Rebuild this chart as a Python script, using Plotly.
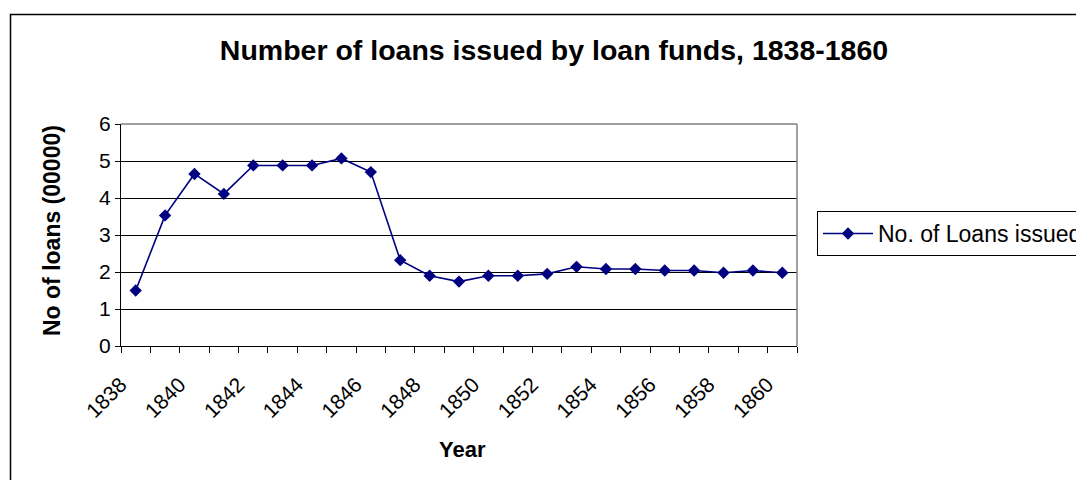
import plotly.graph_objects as go

# Loans issued per year (hundreds of thousands)
years = list(range(1838, 1861))
loans = [1.50, 3.53, 4.65, 4.11, 4.88, 4.88, 4.88, 5.07, 4.70, 2.32, 1.90, 1.74,
         1.90, 1.90, 1.95, 2.14, 2.08, 2.08, 2.04, 2.04, 1.98, 2.04, 1.98]
label_years = years[::2]
y_ticks = [0, 1, 2, 3, 4, 5, 6]

FONT = "Liberation Sans, Arial, sans-serif"
NAVY = "#000080"

# the page body adds an 8px offset, so positions below are page pixels minus 8
OFF = 8
W, H = 1084, 480
L, T = 121 - OFF, 124 - OFF
pw, ph = 676, 222
R, B = W - L - pw, H - T - ph


def px_x(p):
    return (p - OFF - L) / pw


def px_y(p):
    return (T + ph - (p - OFF)) / ph


fig = go.Figure()
fig.add_trace(go.Scatter(
    x=years, y=loans, mode="lines+markers", name="No. of Loans issued",
    line=dict(color=NAVY, width=1.6),
    marker=dict(symbol="diamond", size=9.5, color=NAVY),
))

fig.update_layout(
    width=W, height=H,
    margin=dict(l=L, r=R, t=T, b=B, autoexpand=False),
    paper_bgcolor="white", plot_bgcolor="white",
    font=dict(family=FONT, color="black", size=21),
    showlegend=True,
    legend=dict(
        x=px_x(817), y=px_y(233.5), xanchor="left", yanchor="middle",
        bordercolor="black", borderwidth=1, bgcolor="white",
        itemwidth=50, font=dict(size=23, family=FONT),
    ),
    title=dict(
        text="<b>Number of loans issued by loan funds, 1838-1860</b>",
        font=dict(size=28.5, family=FONT),
        xref="paper", x=px_x(554), xanchor="center",
        yref="container", y=1 - (50 - OFF) / H, yanchor="middle",
    ),
)

fig.update_xaxes(
    range=[1837.5, 1860.5],
    tickmode="array", tickvals=label_years, ticktext=[str(v) for v in label_years],
    ticks="", tickangle=-45, tickfont=dict(size=21),
    ticklabelshift=-15, ticklabelstandoff=17,
    showgrid=False, zeroline=False, automargin=False,
    showline=True, linecolor="black", linewidth=1,
    minor=dict(tickmode="array", tickvals=[y + 0.5 for y in range(1837, 1861)],
               ticks="outside", ticklen=6, tickcolor="black", showgrid=False),
    fixedrange=True,
)
fig.update_yaxes(
    range=[0, 6], tickmode="array", tickvals=y_ticks,
    ticks="outside", ticklen=5, tickcolor="black", tickfont=dict(size=21),
    showgrid=True, gridcolor="black", gridwidth=1, automargin=False,
    zeroline=False, showline=True, linecolor="black", linewidth=1,
    fixedrange=True,
)

# axis titles
fig.add_annotation(text="<b>No of loans (00000)</b>", textangle=-90,
                   xref="paper", yref="paper", x=px_x(52), y=px_y(231),
                   xanchor="center", yanchor="middle",
                   showarrow=False, font=dict(size=23, family=FONT))
fig.add_annotation(text="<b>Year</b>", xref="paper", yref="paper",
                   x=px_x(462), y=px_y(449), xanchor="center", yanchor="middle",
                   showarrow=False, font=dict(size=22, family=FONT))

# grey top/right edge of plot area
fig.add_shape(type="line", xref="paper", yref="paper", x0=0, y0=1, x1=1, y1=1,
              line=dict(color="#808080", width=1.5))
fig.add_shape(type="line", xref="paper", yref="paper", x0=1, y0=0, x1=1, y1=1,
              line=dict(color="#808080", width=1.5))

# outer chart border
fig.add_shape(type="rect", xref="paper", yref="paper",
              x0=px_x(10.5), y0=px_y(14.5), x1=px_x(W + 20), y1=px_y(H + 20),
              line=dict(color="black", width=1.5))

fig.write_html("out.html")
